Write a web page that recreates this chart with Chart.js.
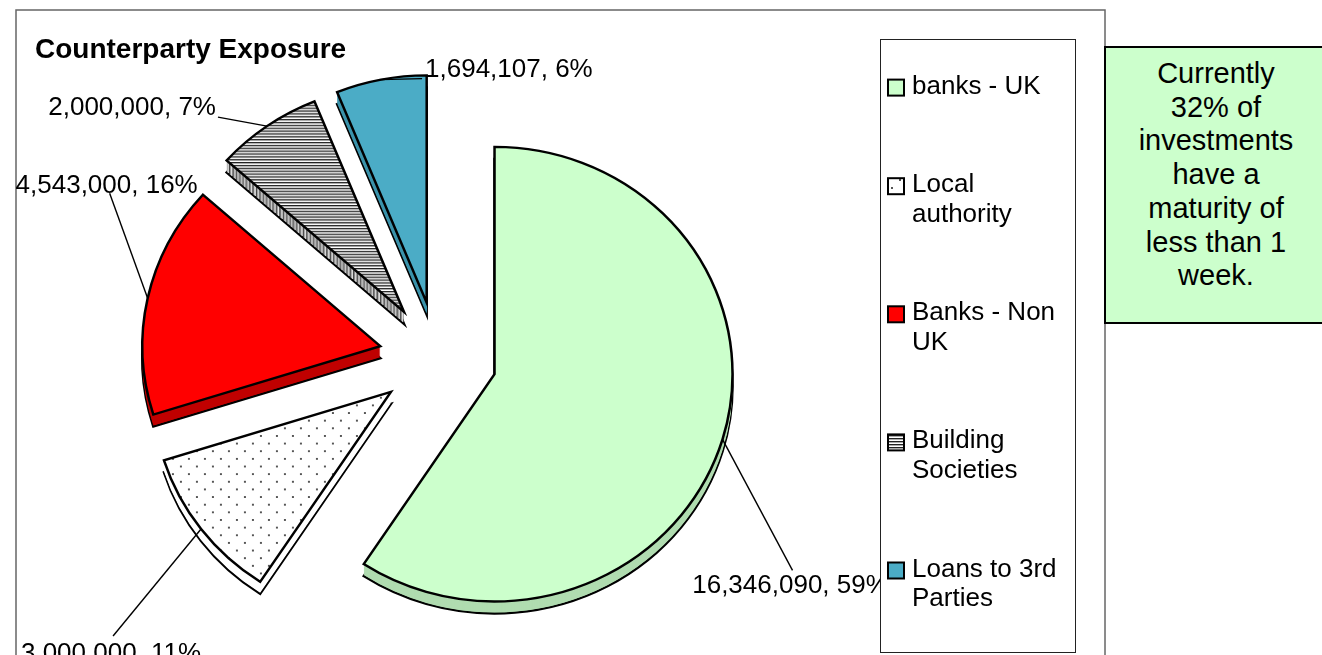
<!DOCTYPE html>
<html>
<head>
<meta charset="utf-8">
<title>Counterparty Exposure</title>
<script src="https://cdn.jsdelivr.net/npm/chart.js@4.4.1/dist/chart.umd.min.js"></script>
<style>
    html, body { margin: 0; padding: 0; background: #fff; overflow: hidden; }
    #wrap { position: relative; width: 1322px; height: 655px; overflow: hidden; }
    #pie { position: absolute; left: 0; top: 0; }
    #note {
        position: absolute; left: 1104px; top: 46px; width: 224px; height: 278px;
        box-sizing: border-box; border: 2px solid #000; background: #ccffcc;
        font: 29px "Liberation Sans", Arial, sans-serif; line-height: 33.7px;
        text-align: center; padding-top: 9px; color: #000;
    }
</style>
</head>
<body>
<div id="wrap">
    <canvas id="pie" width="1322" height="655"></canvas>
    <div id="note">Currently<br>32% of<br>investments<br>have a<br>maturity of<br>less than 1<br>week.</div>
</div>
<script>
const categories = ['banks - UK', 'Local authority', 'Banks - Non UK', 'Building Societies', 'Loans to 3rd Parties'];
const amounts = [16346090, 3000000, 4543000, 2000000, 1694107];
const chartTitle = 'Counterparty Exposure';

const fontFamily = '"Liberation Sans", Arial, sans-serif';
const explode = 59;     // how far each slice is pulled out
const depth = 12;       // thickness of the 3d edge
const squash = 0.955;   // slight tilt of the pie

const makePattern = (w, h, paint) => {
    const c = document.createElement('canvas');
    c.width = w;
    c.height = h;
    const g = c.getContext('2d');
    paint(g);
    return g.createPattern(c, 'repeat');
};

const dotFill = makePattern(16, 16, g => {
    g.fillStyle = '#fff';
    g.fillRect(0, 0, 16, 16);
    g.fillStyle = '#555';
    g.fillRect(3, 3, 2, 2);
    g.fillRect(11, 11, 2, 2);
});

const stripeFill = makePattern(4, 3, g => {
    g.fillStyle = '#fff';
    g.fillRect(0, 0, 4, 3);
    g.fillStyle = '#222';
    g.fillRect(0, 0, 4, 1);
    g.fillStyle = '#aaa';
    g.fillRect(0, 1, 4, 1);
});

const sliceColors = ['#ccffcc', dotFill, '#ff0000', stripeFill, '#4bacc6'];
const sideColors = ['#b0dcb0', '#ffffff', '#c00000', stripeFill, '#3b93ab'];

// leader line from the slice edge, then where the text sits from the line end
const labelLeads = [[70, 131], [-88, 107], [-38, -105], [-49, -9], [41, -1]];
const labelText = [[-2, 23, 'center'], [-2, 25, 'center'], [-3, 0, 'center'], [-2, -2, 'right'], [3, -2, 'left']];

const total = amounts.reduce((a, b) => a + b, 0);
const labelFor = i => `${amounts[i].toLocaleString('en-GB')}, ${Math.round(amounts[i] / total * 100)}%`;

const slicePlace = (ctx, arc, cx, cy, lift) => {
    const mid = (arc.startAngle + arc.endAngle) / 2;
    ctx.translate(0, lift);
    ctx.translate(cx, cy);
    ctx.scale(1, squash);
    ctx.translate(-cx, -cy);
    ctx.translate(Math.cos(mid) * explode, Math.sin(mid) * explode);
};

const drawWith = (ctx, arc, patch) => {
    const saved = arc.options;
    arc.options = Object.assign({}, saved, patch);
    arc.draw(ctx);
    arc.options = saved;
};

const framePlugin = {
    id: 'frame',
    beforeDraw(chart) {
        const ctx = chart.ctx;
        ctx.save();
        ctx.strokeStyle = '#666';
        ctx.lineWidth = 1.5;
        ctx.strokeRect(16, 10, 1089, 700);
        ctx.fillStyle = '#000';
        ctx.font = `bold 28px ${fontFamily}`;
        ctx.textBaseline = 'alphabetic';
        ctx.fillText(chartTitle, 35, 58);
        ctx.restore();
    }
};

const explodedPie = {
    id: 'explodedPie',
    beforeDatasetsDraw(chart) {
        const ctx = chart.ctx;
        const arcs = chart.getDatasetMeta(0).data;
        const cx = arcs[0].x, cy = arcs[0].y;

        // the edges first, stacked a pixel at a time
        arcs.forEach((arc, i) => {
            for (let k = depth; k >= 1; k--) {
                ctx.save();
                slicePlace(ctx, arc, cx, cy, k);
                drawWith(ctx, arc, { backgroundColor: sideColors[i], borderWidth: k === depth ? 2.5 : 0 });
                ctx.restore();
            }
        });

        arcs.forEach(arc => {
            ctx.save();
            slicePlace(ctx, arc, cx, cy, 0);
            arc.draw(ctx);
            ctx.restore();
        });
        return false;
    }
};

const labelsAndLegend = {
    id: 'labelsAndLegend',
    afterDraw(chart) {
        const ctx = chart.ctx;
        const arcs = chart.getDatasetMeta(0).data;
        const cx = arcs[0].x, cy = arcs[0].y;

        ctx.save();
        ctx.font = `26px ${fontFamily}`;
        ctx.fillStyle = '#000';
        ctx.strokeStyle = '#000';
        ctx.lineWidth = 1.4;
        ctx.textBaseline = 'alphabetic';
        arcs.forEach((arc, i) => {
            const mid = (arc.startAngle + arc.endAngle) / 2;
            const r = arc.outerRadius + explode;
            const sx = cx + Math.cos(mid) * r;
            const sy = cy + Math.sin(mid) * r * squash;
            const ex = sx + labelLeads[i][0];
            const ey = sy + labelLeads[i][1];
            ctx.beginPath();
            ctx.moveTo(sx, sy);
            ctx.lineTo(ex, ey);
            ctx.stroke();
            ctx.textAlign = labelText[i][2];
            ctx.fillText(labelFor(i), ex + labelText[i][0], ey + labelText[i][1]);
        });

        // legend box
        const box = { left: 880, top: 39, right: 1075, bottom: 652 };
        ctx.fillStyle = '#fff';
        ctx.fillRect(box.left, box.top, box.right - box.left, box.bottom - box.top);
        ctx.strokeStyle = '#222';
        ctx.lineWidth = 1;
        ctx.strokeRect(box.left + 0.5, box.top + 0.5, box.right - box.left, box.bottom - box.top);

        ctx.textAlign = 'left';
        const lineGap = 29.5, capH = 18.6, itemGap = 80, maxW = 155;
        const wrap = text => {
            const words = text.split(' ');
            const lines = [];
            let line = '';
            words.forEach(w => {
                const tryLine = line ? line + ' ' + w : w;
                if (line && ctx.measureText(tryLine).width > maxW) {
                    lines.push(line);
                    line = w;
                } else {
                    line = tryLine;
                }
            });
            lines.push(line);
            return lines;
        };

        let y = box.top + 36;
        categories.forEach((name, i) => {
            const lines = wrap(name);
            const base = y + capH;
            ctx.fillStyle = sliceColors[i];
            ctx.fillRect(888, base - 14, 16, 16);
            ctx.strokeStyle = '#000';
            ctx.lineWidth = 2;
            ctx.strokeRect(888, base - 14, 16, 16);
            ctx.fillStyle = '#000';
            lines.forEach((ln, j) => ctx.fillText(ln, 912, base + j * lineGap));
            y += capH + (lines.length - 1) * lineGap + itemGap;
        });
        ctx.restore();
    }
};

new Chart(document.getElementById('pie'), {
    type: 'pie',
    data: {
        labels: categories,
        datasets: [{
            data: amounts,
            backgroundColor: sliceColors,
            borderColor: '#000',
            borderWidth: 2.5,
            borderJoinStyle: 'miter'
        }]
    },
    options: {
        responsive: false,
        animation: false,
        radius: 238,
        layout: { padding: { left: 0, right: 446, top: 61, bottom: 0 } },
        plugins: {
            legend: { display: false },
            tooltip: { enabled: false }
        },
        events: []
    },
    plugins: [framePlugin, explodedPie, labelsAndLegend]
});
</script>
</body>
</html>
